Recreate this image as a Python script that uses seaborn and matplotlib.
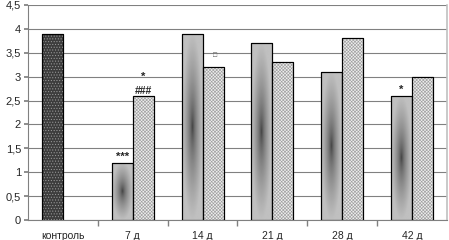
import numpy as np
import pandas as pd
import matplotlib
matplotlib.use("Agg")
import matplotlib.pyplot as plt
import seaborn as sns
from matplotlib.patches import Rectangle

categories = ["контроль", "7 д", "14 д", "21 д", "28 д", "42 д"]
series_a = [3.9, 1.2, 3.9, 3.7, 3.1, 2.6]
series_b = [np.nan, 2.6, 3.2, 3.3, 3.8, 3.0]
yticks = [0, 0.5, 1, 1.5, 2, 2.5, 3, 3.5, 4, 4.5]
ytick_labels = ["0", "0,5", "1", "1,5", "2", "2,5", "3", "3,5", "4", "4,5"]

sns.set_theme(style="white")
plt.rcParams['font.family'] = ['Liberation Sans', 'DejaVu Sans']
plt.rcParams['hatch.linewidth'] = 0.45

df = pd.DataFrame({
    "cat": categories * 2,
    "val": series_a + series_b,
    "grp": ["A"] * len(categories) + ["B"] * len(categories),
})

fig = plt.figure(figsize=(4.49, 2.40), dpi=100)
ax = fig.add_axes([28 / 449, 20 / 240, 419 / 449, 215 / 240])

sns.barplot(data=df, x="cat", y="val", hue="grp", order=categories,
            hue_order=["A", "B"], width=0.6, ax=ax, legend=False,
            palette=["#999999", "#dddddd"], edgecolor="black", linewidth=0.8,
            zorder=3)

patches = [p for p in ax.patches if isinstance(p, Rectangle) and p.get_height() > 0]

n = len(categories)
for p in patches:
    x0, w, h = p.get_x(), p.get_width(), p.get_height()
    xc = x0 + w / 2
    idx = int(round(xc))
    is_a = xc < idx
    p.set_zorder(4)
    if idx == 0:
        p.set_facecolor("#3c3c3c")
        over = Rectangle((x0, 0), w, h, facecolor="none", edgecolor="#9a9a9a",
                         lw=0, hatch="......", zorder=4.5)
        ax.add_patch(over)
    elif is_a:
        p.set_facecolor("none")
        nx, ny = 40, 200
        u = np.linspace(-1, 1, nx)[None, :]
        v = np.linspace(-1, 1, ny)[:, None]
        r = np.sqrt((u / 1.0) ** 2 + (v / 1.0) ** 2)
        val = 0.2 + 0.55 * np.clip(r, 0, 1) ** 0.55
        img = ax.imshow(val, cmap="gray", vmin=0, vmax=1, extent=(x0, x0 + w, 0, h),
                        aspect="auto", origin="lower", zorder=3.2,
                        interpolation="bilinear")
        img.set_clip_path(p)
    else:
        p.set_facecolor("#eeeeee")
        over = Rectangle((x0, 0), w, h, facecolor="none", edgecolor="#a0a0a0",
                         lw=0, hatch="xxxxxxxxxx", zorder=4.5)
        ax.add_patch(over)
    ax.add_patch(Rectangle((x0, 0), w, h, facecolor="none", edgecolor="black",
                           lw=0.8, zorder=5))

ax.set_xlim(-0.5, n - 0.5)
ax.set_ylim(0, 4.5)
ax.set_yticks(yticks)
ax.set_yticklabels(ytick_labels, fontsize=8)
ax.set_xticks(range(n))
ax.set_xticklabels(categories, fontsize=7.5)
ax.set_xticks(np.arange(0.5, n - 0.5, 1), minor=True)
ax.tick_params(axis="x", which="major", length=0, pad=8)
ax.tick_params(axis="x", which="minor", length=4, color="#808080", direction="out", bottom=True)
ax.tick_params(axis="y", length=3, color="#808080", direction="out", left=True, pad=2)
ax.set_xlabel("")
ax.set_ylabel("")
ax.yaxis.grid(True, color="#808080", linewidth=0.8, zorder=0)
ax.set_axisbelow(True)
for s in ["left", "bottom"]:
    ax.spines[s].set_color("#808080")
    ax.spines[s].set_linewidth(0.8)
ax.spines["top"].set_visible(False)
ax.spines["right"].set_color("#c0c0c0")
ax.spines["right"].set_linewidth(1.2)

bw = 0.3
ax.text(1 - bw / 2, 1.2 + 0.02, "***", ha="center", va="bottom", fontsize=8, fontweight="bold", zorder=6)
ax.text(1 + bw / 2, 2.6 + 0.0, "###", ha="center", va="bottom", fontsize=7.5, fontweight="bold", zorder=6)
ax.text(1 + bw / 2, 2.9, "*", ha="center", va="bottom", fontsize=8, fontweight="bold", zorder=6)
ax.text(2 + bw / 2 + 0.03, 3.37, "□", ha="center", va="bottom", fontsize=5, color="#555555", zorder=6)
ax.text(5 - bw / 2, 2.62, "*", ha="center", va="bottom", fontsize=8, fontweight="bold", zorder=6)

fig.savefig("out.png", dpi=100)
